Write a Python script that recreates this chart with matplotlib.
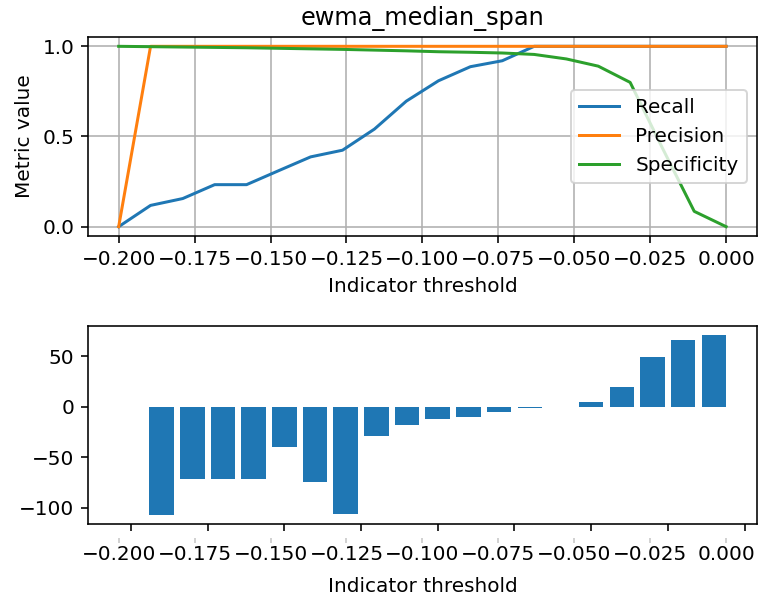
import matplotlib
matplotlib.use("Agg")
import matplotlib.pyplot as plt

# Threshold sweep for the ewma_median_span indicator
thresholds = [-0.2, -0.1895, -0.1789, -0.1684, -0.1579, -0.1474, -0.1368,
              -0.1263, -0.1158, -0.1053, -0.0947, -0.0842, -0.0737, -0.0632,
              -0.0526, -0.0421, -0.0316, -0.0211, -0.0105, 0.0]
recall = [0.0, 0.118, 0.156, 0.233, 0.233, 0.31, 0.387, 0.424, 0.541, 0.696,
          0.809, 0.887, 0.92, 1.0, 1.0, 1.0, 1.0, 1.0, 1.0, 1.0]
precision = [0.0, 1.0, 1.0, 1.0, 1.0, 1.0, 1.0, 1.0, 1.0, 1.0,
             1.0, 1.0, 1.0, 1.0, 1.0, 1.0, 1.0, 1.0, 1.0, 1.0]
specificity = [1.0, 0.998, 0.996, 0.994, 0.992, 0.989, 0.986, 0.983, 0.979, 0.975,
               0.970, 0.967, 0.963, 0.955, 0.93, 0.89, 0.80, 0.44, 0.085, 0.0]

# Bar panel: net score per threshold bucket
bar_thresholds = [-0.20, -0.19, -0.18, -0.17, -0.16, -0.15, -0.14, -0.13, -0.12, -0.11,
                  -0.10, -0.09, -0.08, -0.07, -0.06, -0.05, -0.04, -0.03, -0.02, -0.01]
bar_values = [0.0, -107.4, -71.6, -72.0, -72.0, -39.8, -74.6, -106.4, -29.2, -17.9,
              -12.6, -9.9, -5.0, -1.0, 0.0, 4.3, 19.5, 49.3, 65.6, 71.2]

W, H, DPI = 758, 596, 144
fig = plt.figure(figsize=(W / DPI, H / DPI), dpi=DPI)

left, right = 88.3, 756.5
ax1 = fig.add_axes([left / W, 1 - 235.7 / H, (right - left) / W, (235.7 - 37.3) / H])
ax2 = fig.add_axes([left / W, 1 - 524.0 / H, (right - left) / W, (524.0 - 325.7) / H])

ax1.plot(thresholds, recall, label="Recall")
ax1.plot(thresholds, precision, label="Precision")
ax1.plot(thresholds, specificity, label="Specificity")
ax1.set_yticks([0.0, 0.5, 1.0])
ax1.grid(True)
ax1.set_title("ewma_median_span")
ax1.set_ylabel("Metric value")
ax1.set_xlabel("Indicator threshold")
ax1.legend(loc="center right")

ax2.bar(bar_thresholds, bar_values, width=0.008)
ax2.set_yticks([-100, -50, 0, 50])
ax2.tick_params(axis="x", labelbottom=False)

# Threshold labels for the lower panel, on the same scale as the upper panel
ax3 = fig.add_axes(ax2.get_position(), frameon=False)
ax3.sharex(ax1)
ax3.set_yticks([])
ax3.spines["bottom"].set_position(("outward", 7.0))
ax3.tick_params(axis="x", length=2.25, width=0.8, color="#c8c8c8", pad=1.0)
ax3.set_xlabel("Indicator threshold", labelpad=6.5)

fig.savefig("out.png", dpi=DPI)
